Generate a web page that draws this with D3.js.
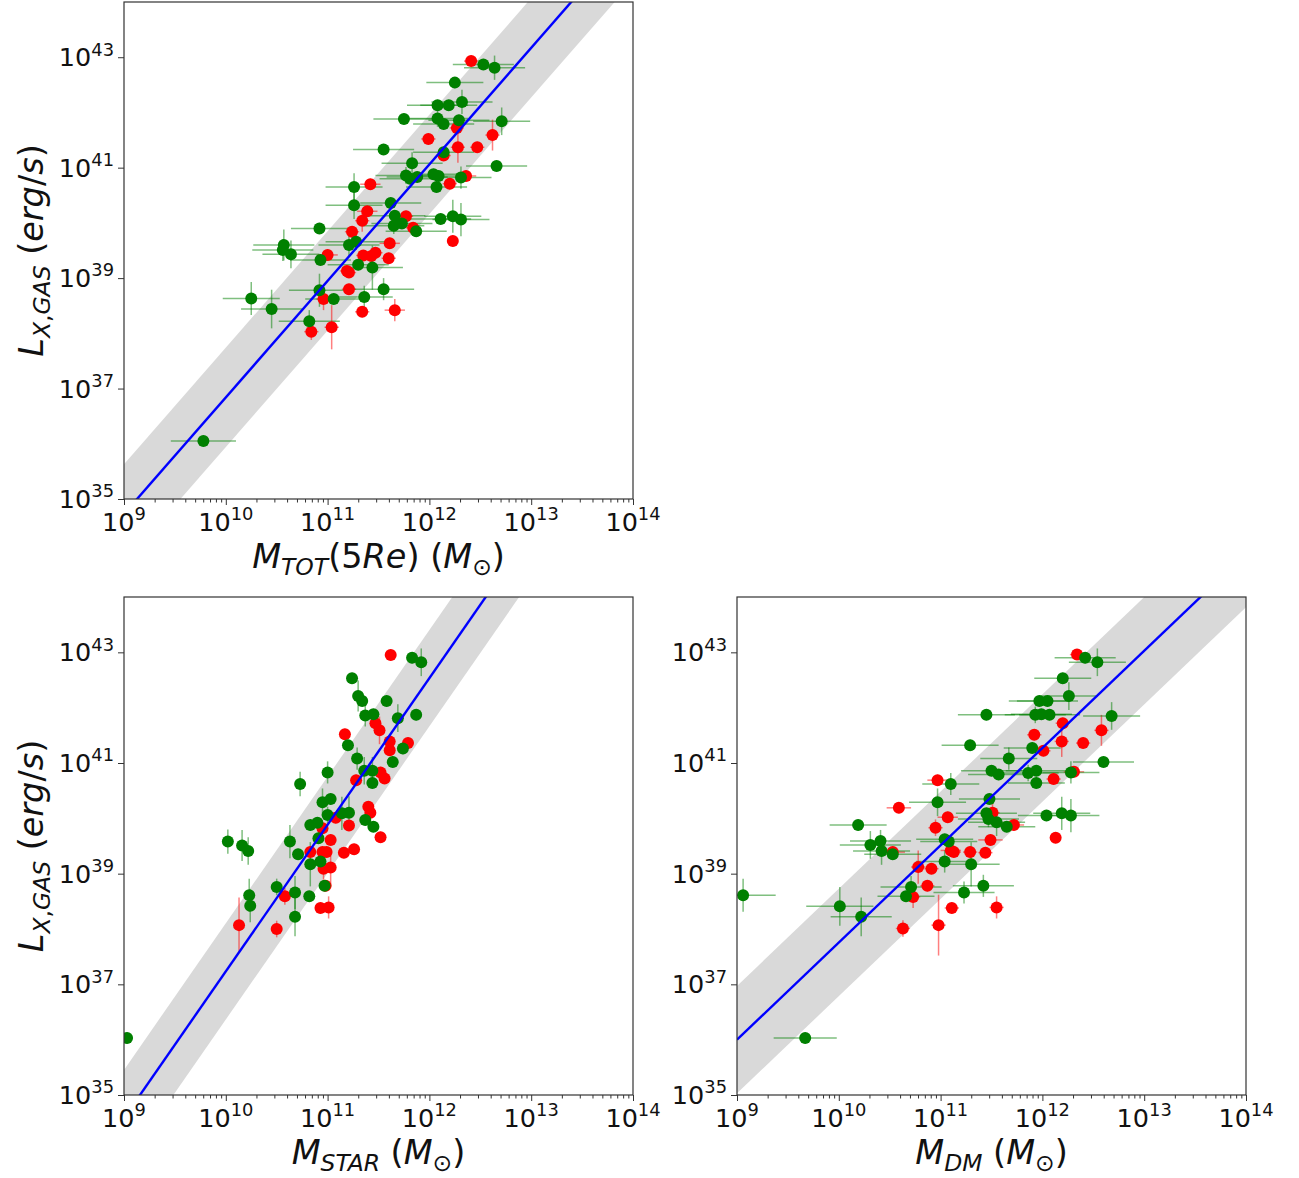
<!DOCTYPE html>
<html><head><meta charset="utf-8">
<script src="https://cdn.jsdelivr.net/npm/d3@7"></script>
<style>body{margin:0;background:#fff;} text{font-family:"DejaVu Sans";white-space:pre;}</style>
</head><body>
<svg id="chart" width="1299" height="1178"></svg>
<script>
// ---------- DATA (log10 M, log10 Lx, x error [dex], y error [dex]) ----------
const xTickExp = [9, 10, 11, 12, 13, 14];
const yTickExp = [35, 37, 39, 41, 43];

const totRed = [
[12.41,42.93,0.07,0.10],[11.99,41.52,0.07,0.10],[12.27,41.72,0.07,0.12],[12.62,41.59,0.07,0.28],
[12.28,41.37,0.07,0.28],[12.47,41.37,0.07,0.10],[12.14,41.22,0.07,0.10],[12.36,40.85,0.10,0.10],
[12.20,40.71,0.07,0.10],[11.42,40.70,0.10,0.10],[11.39,40.21,0.10,0.10],[11.34,40.04,0.07,0.20],
[11.77,40.12,0.07,0.10],[11.84,39.91,0.07,0.10],[11.24,39.84,0.07,0.10],[11.61,39.63,0.10,0.10],
[11.00,39.42,0.10,0.10],[11.35,39.41,0.07,0.10],[11.47,39.46,0.07,0.10],[11.43,39.40,0.07,0.10],
[11.60,39.36,0.07,0.10],[11.19,39.13,0.07,0.10],[11.21,39.10,0.07,0.10],[11.21,38.80,0.07,0.10],
[12.23,39.67,0.05,0.10],[10.96,38.62,0.07,0.20],[11.34,38.39,0.07,0.10],[11.66,38.42,0.10,0.20],
[10.84,38.03,0.07,0.15],[11.04,38.11,0.07,0.40]
];
const totGreen = [
[12.53,42.87,0.30,0.10],[12.64,42.81,0.30,0.22],[12.25,42.54,0.28,0.10],[12.08,42.13,0.30,0.10],
[12.19,42.13,0.28,0.10],[12.32,42.19,0.30,0.22],[11.75,41.88,0.30,0.10],[12.08,41.89,0.30,0.15],
[12.14,41.79,0.30,0.10],[12.29,41.86,0.30,0.10],[12.71,41.84,0.28,0.25],[11.55,41.33,0.30,0.10],
[12.14,41.28,0.30,0.10],[11.83,41.08,0.30,0.20],[12.66,41.03,0.30,0.10],[11.77,40.86,0.30,0.15],
[11.81,40.80,0.30,0.10],[11.88,40.83,0.30,0.10],[12.04,40.88,0.30,0.10],[12.09,40.85,0.28,0.10],
[12.31,40.82,0.30,0.20],[12.07,40.65,0.30,0.10],[11.26,40.65,0.28,0.25],[11.26,40.32,0.28,0.25],
[11.62,40.36,0.30,0.10],[11.66,40.13,0.30,0.10],[11.65,39.95,0.30,0.15],[11.73,39.99,0.30,0.10],
[11.87,39.85,0.30,0.10],[12.11,40.07,0.30,0.10],[12.23,40.12,0.28,0.30],[12.31,40.06,0.28,0.30],
[10.92,39.90,0.28,0.10],[10.57,39.60,0.30,0.28],[10.56,39.51,0.30,0.20],[10.64,39.43,0.28,0.25],
[10.93,39.33,0.30,0.10],[11.21,39.60,0.30,0.20],[11.28,39.66,0.30,0.15],[11.30,39.24,0.30,0.10],
[11.44,39.19,0.30,0.40],[10.92,38.78,0.30,0.30],[11.06,38.62,0.28,0.10],[11.36,38.66,0.28,0.20],
[11.55,38.80,0.30,0.20],[10.25,38.63,0.28,0.30],[10.45,38.44,0.30,0.35],[10.82,38.22,0.30,0.20],
[9.78,36.05,0.32,0.10]
];

const starRed = [
[11.62,42.95,0,0.10],[11.17,41.52,0,0.10],[11.47,41.72,0,0.10],[11.51,41.59,0,0.25],
[11.61,41.39,0,0.10],[11.61,41.23,0,0.10],[11.79,41.36,0,0.10],[11.52,40.83,0,0.10],
[11.56,40.72,0,0.10],[11.28,40.69,0,0.10],[11.40,40.21,0,0.10],[11.42,40.10,0,0.10],
[11.08,40.01,0,0.10],[11.21,39.87,0,0.10],[11.52,39.66,0,0.10],[10.95,39.82,0,0.10],
[11.03,39.61,0,0.10],[10.83,39.39,0,0.10],[10.95,39.39,0,0.10],[10.99,39.39,0,0.10],
[11.16,39.38,0,0.10],[11.26,39.44,0,0.10],[10.96,39.09,0,0.20],[11.03,39.11,0,0.35],
[10.98,38.78,0,0.10],[10.93,38.38,0,0.10],[11.01,38.39,0,0.20],[10.58,38.59,0,0.15],
[10.13,38.07,0,0.50],[10.50,38.00,0,0.15]
];
const starGreen = [
[11.83,42.90,0,0.10],[11.92,42.82,0,0.25],[11.24,42.53,0,0.10],[11.30,42.21,0,0.28],
[11.34,42.12,0,0.10],[11.58,42.12,0,0.10],[11.37,41.86,0,0.20],[11.45,41.88,0,0.10],
[11.69,41.81,0,0.25],[11.87,41.87,0,0.10],[11.20,41.32,0,0.10],[11.74,41.26,0,0.10],
[11.29,41.08,0,0.20],[11.64,41.02,0,0.10],[11.36,40.86,0,0.25],[11.44,40.86,0,0.25],
[11.44,40.64,0,0.10],[11.00,40.83,0,0.20],[10.73,40.62,0,0.22],[10.95,40.29,0,0.25],
[11.03,40.35,0,0.10],[11.00,40.06,0,0.15],[11.14,40.09,0,0.30],[11.21,40.10,0,0.30],
[11.37,39.97,0,0.10],[11.45,39.85,0,0.10],[10.83,39.88,0,0.10],[10.90,39.92,0,0.10],
[10.91,39.64,0,0.10],[10.63,39.58,0,0.30],[10.71,39.35,0,0.10],[10.83,39.17,0,0.40],
[10.93,39.22,0,0.10],[10.97,38.78,0,0.10],[10.50,38.76,0,0.15],[10.68,38.66,0,0.30],
[10.82,38.59,0,0.10],[10.68,38.22,0,0.35],[10.23,38.61,0,0.30],[10.24,38.42,0,0.30],
[10.02,39.58,0,0.22],[10.16,39.51,0,0.28],[10.22,39.41,0,0.25],[9.03,36.03,0,0.10]
];

const dmRed = [
[12.34,42.96,0.07,0.10],[12.20,41.72,0.07,0.10],[12.58,41.59,0.07,0.28],[11.92,41.51,0.07,0.10],
[12.19,41.39,0.07,0.28],[12.40,41.36,0.07,0.10],[12.01,41.22,0.07,0.10],[12.31,40.84,0.10,0.10],
[12.11,40.71,0.07,0.10],[10.97,40.69,0.10,0.10],[10.59,40.19,0.12,0.10],[11.07,40.02,0.10,0.10],
[11.51,40.10,0.07,0.20],[11.72,39.88,0.10,0.10],[10.95,39.83,0.07,0.15],[11.49,39.61,0.12,0.10],
[11.10,39.42,0.10,0.10],[11.13,39.39,0.07,0.10],[11.29,39.39,0.07,0.10],[11.44,39.38,0.07,0.10],
[10.53,39.39,0.12,0.10],[10.78,39.12,0.07,0.30],[10.91,39.09,0.07,0.10],[10.87,38.78,0.07,0.10],
[10.73,38.58,0.07,0.20],[11.11,38.38,0.07,0.10],[11.55,38.39,0.07,0.20],[10.98,38.07,0.07,0.55],
[10.63,38.01,0.07,0.15],[12.13,39.65,0.05,0.10]
];
const dmGreen = [
[12.42,42.90,0.30,0.10],[12.54,42.82,0.28,0.25],[12.20,42.53,0.28,0.10],[12.26,42.21,0.28,0.25],
[11.97,42.12,0.30,0.10],[12.05,42.12,0.30,0.10],[11.93,41.87,0.30,0.15],[11.99,41.88,0.30,0.10],
[12.07,41.87,0.30,0.10],[11.45,41.87,0.28,0.10],[12.68,41.85,0.28,0.25],[11.29,41.32,0.28,0.10],
[11.90,41.27,0.28,0.10],[11.67,41.08,0.28,0.20],[12.60,41.02,0.30,0.10],[11.50,40.86,0.30,0.10],
[11.57,40.79,0.30,0.10],[11.86,40.82,0.30,0.15],[11.94,40.86,0.30,0.10],[11.94,40.64,0.28,0.10],
[12.28,40.83,0.28,0.20],[11.10,40.62,0.28,0.20],[10.97,40.29,0.28,0.25],[11.48,40.35,0.30,0.10],
[11.45,40.09,0.30,0.10],[11.47,39.99,0.30,0.15],[11.55,39.93,0.28,0.25],[11.65,39.85,0.28,0.10],
[12.04,40.05,0.28,0.10],[12.19,40.09,0.28,0.30],[12.28,40.05,0.28,0.30],[11.04,39.62,0.28,0.10],
[11.08,39.58,0.28,0.10],[11.04,39.22,0.28,0.20],[11.30,39.17,0.28,0.40],[10.19,39.88,0.28,0.10],
[10.31,39.52,0.30,0.25],[10.41,39.59,0.30,0.20],[10.42,39.41,0.28,0.25],[10.53,39.35,0.28,0.10],
[10.71,38.76,0.30,0.20],[10.66,38.59,0.28,0.10],[11.42,38.78,0.30,0.20],[11.23,38.66,0.30,0.20],
[10.01,38.41,0.33,0.35],[10.22,38.22,0.30,0.35],[9.06,38.61,0.32,0.30],[9.67,36.03,0.31,0.10]
];

// best-fit relations: log L = intercept + slope * (log M - 9), band = +/- scatter (dex)
const fitSlope = [2.11, 2.65, 1.757];
const fitIntercept = [34.73, 34.584, 36.0];
const fitScatter = [0.9, 0.87, 0.97];

// ---------- DRAW ----------
const svg = d3.select("#chart");
svg.append("rect").attr("width",1299).attr("height",1178).attr("fill","#fff");

const panels = [
  {x:124, y:2,   w:509, h:497, green:totGreen,  red:totRed,  k:0,
   xlab:[{t:"M",it:1},{t:"TOT",it:1,sub:1},{t:"(5"},{t:"Re",it:1},{t:") ("},{t:"M",it:1},{t:"\u2299",sub:1},{t:")"}]},
  {x:124, y:597, w:509, h:498, green:starGreen, red:starRed, k:1,
   xlab:[{t:"M",it:1},{t:"STAR",it:1,sub:1},{t:" ("},{t:"M",it:1},{t:"\u2299",sub:1},{t:")"}]},
  {x:737, y:597, w:509, h:498, green:dmGreen,   red:dmRed,   k:2,
   xlab:[{t:"M",it:1},{t:"DM",it:1,sub:1},{t:" ("},{t:"M",it:1},{t:"\u2299",sub:1},{t:")"}]}
];
const ylab = [{t:"L",it:1},{t:"X",it:1,sub:1},{t:",",sub:1},{t:"GAS",it:1,sub:1},{t:" ("},{t:"erg",it:1},{t:"/"},{t:"s",it:1},{t:")"}];

function addMath(text, parts, F) {
  let cur = 0;
  parts.forEach(p => {
    const small = p.sub || p.sup;
    const fs = small ? F*0.7 : F;
    const target = p.sub ? F*0.2 : (p.sup ? -F*0.42 : 0);
    text.append("tspan").attr("font-size", fs)
      .attr("font-style", p.it ? "italic" : "normal")
      .attr("dy", target - cur).text(p.t);
    cur = target;
  });
}

const TF = 25.5, LF = 33.5;

panels.forEach((P, i) => {
  const g = svg.append("g").attr("transform", `translate(${P.x},${P.y})`);
  const x = d3.scaleLog().domain([1e9, 1e14]).range([0, P.w]);
  const y = d3.scaleLog().domain([1e35, 1e44]).range([P.h, 0]);
  const clipId = "clip" + i;
  g.append("clipPath").attr("id", clipId).append("rect").attr("width", P.w).attr("height", P.h);
  const plot = g.append("g").attr("clip-path", `url(#${clipId})`);

  // band + fit
  const s = fitSlope[P.k], b = fitIntercept[P.k], sc = fitScatter[P.k];
  const lx = [9, 14];
  const up = lx.map(v => [x(Math.pow(10, v)), y(Math.pow(10, b + s*(v-9) + sc))]);
  const lo = lx.map(v => [x(Math.pow(10, v)), y(Math.pow(10, b + s*(v-9) - sc))]);
  plot.append("path").attr("d", d3.line()(up.concat(lo.reverse())) + "Z").attr("fill", "#d9d9d9");

  // error bars + points
  [[P.red, "#ff0000"], [P.green, "#008000"]].forEach(([data, col]) => {
    const eb = plot.append("g").attr("stroke", col).attr("stroke-opacity", 0.5).attr("stroke-width", 1.5);
    data.forEach(d => {
      const cx = x(Math.pow(10, d[0])), cy = y(Math.pow(10, d[1]));
      if (d[2] > 0) eb.append("line").attr("x1", x(Math.pow(10, d[0]-d[2]))).attr("x2", x(Math.pow(10, d[0]+d[2])))
        .attr("y1", cy).attr("y2", cy);
      if (d[3] > 0) eb.append("line").attr("y1", y(Math.pow(10, d[1]-d[3]))).attr("y2", y(Math.pow(10, d[1]+d[3])))
        .attr("x1", cx).attr("x2", cx);
    });
  });
  [[P.red, "#ff0000"], [P.green, "#008000"]].forEach(([data, col]) => {
    plot.append("g").selectAll("circle").data(data).join("circle")
      .attr("cx", d => x(Math.pow(10, d[0]))).attr("cy", d => y(Math.pow(10, d[1])))
      .attr("r", 6).attr("fill", col);
  });

  plot.append("path").attr("d", d3.line()(lx.map(v => [x(Math.pow(10, v)), y(Math.pow(10, b + s*(v-9)))])))
    .attr("stroke", "#0000ff").attr("stroke-width", 2.4).attr("fill", "none");

  // axes
  const minor = [];
  for (let e = 9; e < 14; e++) for (let m = 2; m <= 9; m++) minor.push(m * Math.pow(10, e));
  const major = xTickExp.map(e => Math.pow(10, e));
  const xa = g.append("g").attr("transform", `translate(0,${P.h})`)
    .call(d3.axisBottom(x).tickValues(major).tickSize(6).tickSizeOuter(0).tickFormat(""));
  const xm = g.append("g").attr("transform", `translate(0,${P.h})`)
    .call(d3.axisBottom(x).tickValues(minor).tickSize(3.5).tickSizeOuter(0).tickFormat(""));
  const ya = g.append("g")
    .call(d3.axisLeft(y).tickValues(yTickExp.map(e => Math.pow(10, e))).tickSize(6).tickSizeOuter(0).tickFormat(""));
  [xa, xm, ya].forEach(a => { a.select(".domain").remove(); a.selectAll("line").attr("stroke", "#333"); });

  g.append("rect").attr("width", P.w).attr("height", P.h).attr("fill", "none").attr("stroke", "#333").attr("stroke-width", 1.2);

  xTickExp.forEach(e => {
    const t = g.append("text").attr("x", x(Math.pow(10, e))).attr("y", P.h + 32)
      .attr("text-anchor", "middle").attr("fill", "#111");
    addMath(t, [{t:"10"}, {t:String(e), sup:1}], TF);
  });
  yTickExp.forEach(e => {
    const t = g.append("text").attr("x", -10).attr("y", y(Math.pow(10, e)) + 9)
      .attr("text-anchor", "end").attr("fill", "#111");
    addMath(t, [{t:"10"}, {t:String(e), sup:1}], TF);
  });

  const xl = g.append("text").attr("x", P.w/2).attr("y", P.h + 69).attr("text-anchor", "middle").attr("fill", "#111");
  addMath(xl, P.xlab, LF);

  if (i < 2) {
    const yl = g.append("text").attr("transform", `translate(${43 - P.x},${P.h/2}) rotate(-90)`)
      .attr("text-anchor", "middle").attr("fill", "#111");
    addMath(yl, ylab, LF);
  }
});
</script>
</body></html>
